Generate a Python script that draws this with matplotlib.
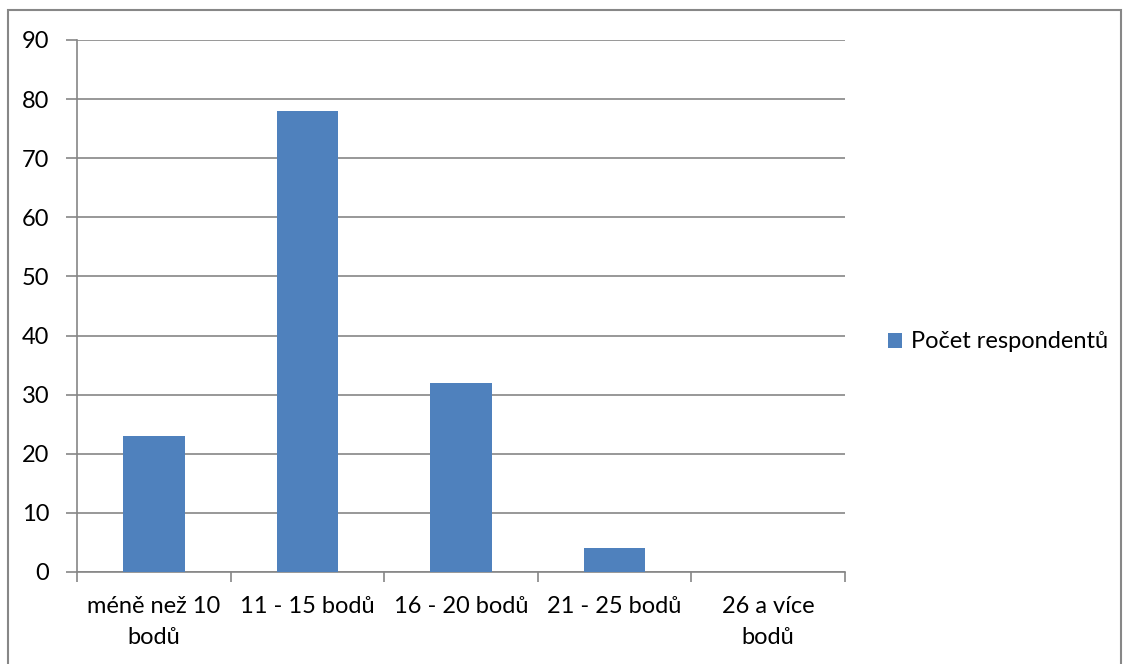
import matplotlib
matplotlib.use("Agg")
import matplotlib.pyplot as plt
from matplotlib.patches import Rectangle
import numpy as np

categories = ["méně než 10\nbodů", "11 - 15 bodů", "16 - 20 bodů", "21 - 25 bodů", "26 a více\nbodů"]
counts = [23, 78, 32, 4, 0]
series_name = "Počet respondentů"
y_ticks = [0, 10, 20, 30, 40, 50, 60, 70, 80, 90]

plt.rcParams["font.family"] = ["Lato", "DejaVu Sans"]
grid_col = "#868686"
bar_col = "#4F81BD"

fig = plt.figure(figsize=(11.3, 6.64), dpi=100)
W, H = 1130, 664
ax = fig.add_axes([77 / W, 1 - 572 / H, (845 - 77) / W, (572 - 40) / H])

x = np.arange(len(categories))
ax.bar(x, counts, width=0.4, color=bar_col, label=series_name, zorder=3)

ax.set_xlim(-0.5, len(categories) - 0.5)
ax.set_ylim(0, 90)
ax.set_yticks(y_ticks)
ax.set_yticklabels([str(v) for v in y_ticks], fontsize=17)
ax.yaxis.grid(True, color=grid_col, linewidth=1.2, zorder=0)
ax.tick_params(axis="y", length=8, color=grid_col, width=1.2, pad=12)

ax.set_xticks(x)
ax.set_xticklabels(categories, fontsize=17, linespacing=1.6)
ax.set_xticks(np.arange(len(categories) + 1) - 0.5, minor=True)
ax.tick_params(axis="x", which="major", length=0, pad=17)
ax.tick_params(axis="x", which="minor", length=7, color=grid_col, width=1.2)

for side in ["top", "right"]:
    ax.spines[side].set_visible(False)
for side in ["left", "bottom"]:
    ax.spines[side].set_color(grid_col)
    ax.spines[side].set_linewidth(1.2)

fig.legend(loc="center left", bbox_to_anchor=(867 / W, 1 - 342 / H), frameon=False,
           fontsize=17, handlelength=0.6, handleheight=0.6, handletextpad=0.35)

fig.patches.append(Rectangle((8 / W, -10 / H), (1121 - 8) / W, (664 - 10 + 10) / H,
                             transform=fig.transFigure, fill=False,
                             edgecolor="#878787", linewidth=1.5))

fig.savefig("out.png", dpi=100)
